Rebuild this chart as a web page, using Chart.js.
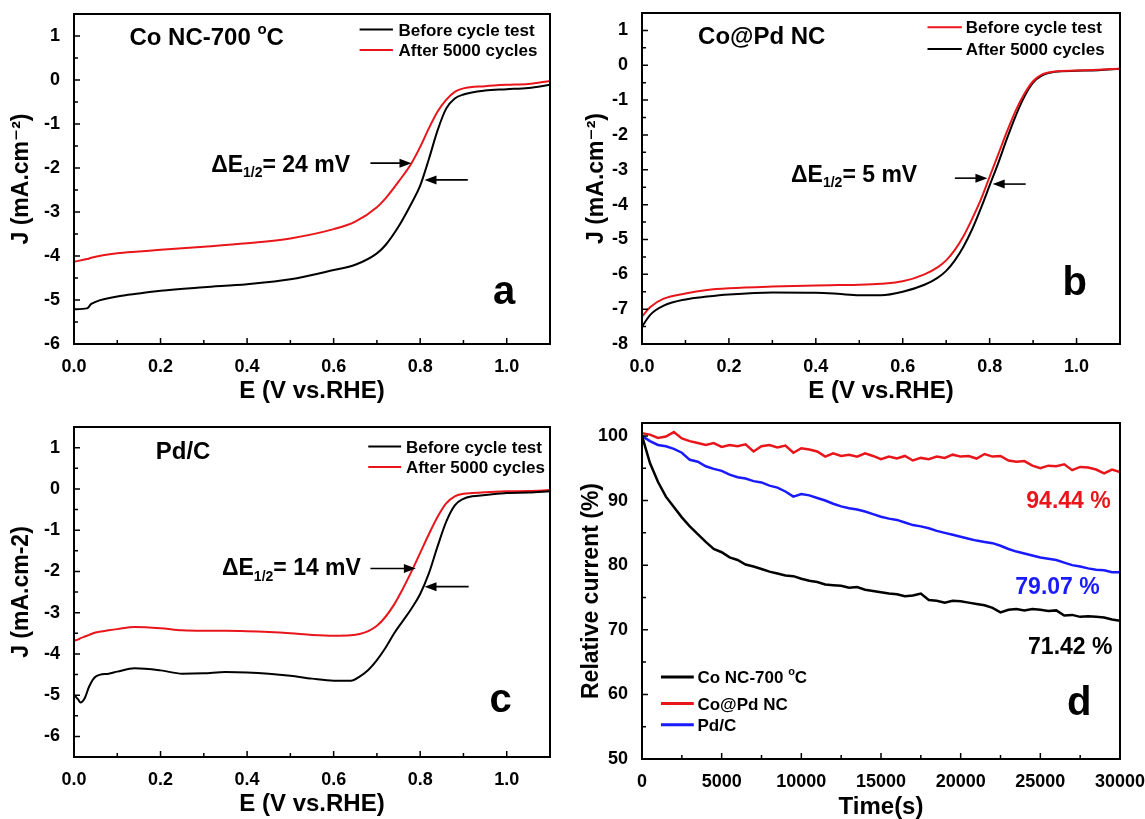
<!DOCTYPE html>
<html>
<head>
<meta charset="utf-8">
<script src="https://cdn.jsdelivr.net/npm/chart.js@4.4.1/dist/chart.umd.min.js"></script>
<style>
  body { margin: 0; background: #fff; }
  #fig { position: relative; width: 1145px; height: 819px; overflow: hidden; }
  #fig canvas { position: absolute; }
</style>
</head>
<body>
<div id="fig">
  <canvas id="panelA" width="572" height="410" style="left:0;top:0"></canvas>
  <canvas id="panelB" width="573" height="410" style="left:572px;top:0"></canvas>
  <canvas id="panelC" width="572" height="409" style="left:0;top:410px"></canvas>
  <canvas id="panelD" width="573" height="409" style="left:572px;top:410px"></canvas>
</div>
<script>
// ---- data ----
// (a) Co NC-700 °C
var eA = [0, 0.03, 0.04, 0.1, 0.15, 0.2, 0.3, 0.4, 0.5, 0.6, 0.65, 0.7, 0.72, 0.75, 0.78, 0.8, 0.82, 0.84, 0.86, 0.88, 0.9, 0.95, 1.0, 1.05, 1.1];
var beforeA = [-5.21, -5.19, -5.09, -4.92, -4.85, -4.79, -4.71, -4.64, -4.53, -4.32, -4.2, -3.94, -3.75, -3.33, -2.8, -2.4, -1.8, -1.15, -0.65, -0.42, -0.33, -0.24, -0.21, -0.18, -0.11];
var afterA = [-4.13, -4.07, -4.04, -3.94, -3.9, -3.86, -3.79, -3.71, -3.6, -3.39, -3.22, -2.89, -2.69, -2.31, -1.89, -1.52, -1.1, -0.72, -0.45, -0.27, -0.19, -0.14, -0.11, -0.09, -0.02];

// (b) Co@Pd NC
var eB = [0, 0.02, 0.05, 0.1, 0.15, 0.2, 0.3, 0.4, 0.45, 0.5, 0.55, 0.6, 0.65, 0.68, 0.7, 0.72, 0.74, 0.76, 0.78, 0.8, 0.82, 0.84, 0.86, 0.88, 0.9, 0.92, 0.95, 1.0, 1.05, 1.1];
var beforeB = [-7.21, -6.93, -6.7, -6.55, -6.45, -6.4, -6.35, -6.32, -6.31, -6.3, -6.27, -6.2, -6.0, -5.8, -5.6, -5.3, -4.9, -4.4, -3.85, -3.2, -2.55, -1.9, -1.3, -0.82, -0.46, -0.27, -0.18, -0.15, -0.13, -0.1];
var afterB = [-7.5, -7.15, -6.9, -6.72, -6.64, -6.58, -6.52, -6.53, -6.56, -6.6, -6.6, -6.5, -6.3, -6.1, -5.9, -5.6, -5.2, -4.7, -4.1, -3.45, -2.8, -2.1, -1.45, -0.9, -0.5, -0.3, -0.19, -0.16, -0.14, -0.1];

// (c) Pd/C
var eC = [0, 0.01, 0.015, 0.025, 0.035, 0.05, 0.08, 0.1, 0.14, 0.2, 0.25, 0.3, 0.35, 0.4, 0.45, 0.5, 0.55, 0.6, 0.64, 0.66, 0.68, 0.7, 0.72, 0.74, 0.76, 0.78, 0.8, 0.82, 0.84, 0.86, 0.88, 0.9, 0.92, 0.95, 1.0, 1.05, 1.1];
var beforeC = [-4.99, -5.11, -5.18, -5.07, -4.79, -4.55, -4.48, -4.43, -4.35, -4.4, -4.48, -4.47, -4.44, -4.45, -4.48, -4.53, -4.6, -4.65, -4.65, -4.55, -4.39, -4.15, -3.85, -3.5, -3.2, -2.9, -2.55, -2.05, -1.4, -0.8, -0.4, -0.24, -0.18, -0.15, -0.1, -0.09, -0.06];
var afterC = [-3.68, -3.65, -3.62, -3.58, -3.54, -3.48, -3.43, -3.4, -3.35, -3.38, -3.43, -3.44, -3.44, -3.45, -3.47, -3.5, -3.54, -3.56, -3.55, -3.52, -3.45, -3.32, -3.1, -2.8, -2.42, -2.0, -1.55, -1.1, -0.68, -0.35, -0.18, -0.12, -0.1, -0.08, -0.06, -0.05, -0.03];

// (d) chronoamperometry, relative current (%)
var timeD = [0, 500, 1000, 1500, 2000, 2500, 3000, 3500, 4000, 4500, 5000, 5500, 6000, 6500, 7000, 7500, 8000, 8500, 9000, 9500,
  10000, 10500, 11000, 11500, 12000, 12500, 13000, 13500, 14000, 14500, 15000, 15500, 16000, 16500, 17000, 17500, 18000, 18500, 19000, 19500,
  20000, 20500, 21000, 21500, 22000, 22500, 23000, 23500, 24000, 24500, 25000, 25500, 26000, 26500, 27000, 27500, 28000, 28500, 29000, 29500, 30000];
var coNC = [100, 95.8, 92.9, 90.6, 89.0, 87.4, 86.0, 84.8, 83.6, 82.5, 82.0, 81.2, 80.8, 80.1, 79.8, 79.4, 79.0, 78.7, 78.4, 78.3,
  77.9, 77.6, 77.4, 77.0, 76.9, 76.8, 76.5, 76.6, 76.2, 76.0, 75.8, 75.6, 75.5, 75.2, 75.3, 75.6, 74.6, 74.5, 74.2, 74.5,
  74.4, 74.2, 74.0, 73.8, 73.4, 72.7, 73.1, 73.2, 73.0, 73.2, 73.1, 72.9, 73.0, 72.2, 72.3, 72.0, 72.1, 72.0, 71.9, 71.6, 71.4];
var coPdNC = [100.4, 100.2, 99.7, 99.9, 100.6, 99.6, 99.2, 98.9, 98.6, 98.9, 98.3, 98.6, 98.4, 98.7, 97.6, 98.4, 98.6, 98.2, 98.5, 97.4,
  98.1, 97.9, 97.6, 96.8, 97.3, 96.9, 97.1, 96.8, 97.3, 96.9, 96.4, 96.8, 96.5, 96.9, 96.2, 96.6, 96.4, 96.8, 96.6, 97.1,
  96.8, 96.9, 96.5, 97.2, 96.8, 96.9, 96.2, 96.0, 96.1, 95.4, 95.0, 95.4, 95.3, 95.6, 94.7, 95.2, 95.1, 94.8, 94.2, 94.8, 94.4];
var pdC = [100, 99.2, 98.6, 98.4, 98.0, 97.4, 96.3, 96.0, 95.3, 94.9, 94.6, 94.0, 93.6, 93.4, 93.0, 92.8, 92.3, 92.0, 91.4, 90.6,
  91.0, 90.8, 90.4, 90.0, 89.5, 89.1, 88.8, 88.6, 88.3, 87.9, 87.5, 87.2, 87.0, 86.6, 86.2, 86.0, 85.7, 85.3, 85.0, 84.7,
  84.4, 84.1, 83.8, 83.6, 83.4, 83.0, 82.5, 82.1, 81.8, 81.5, 81.2, 81.0, 80.8, 80.4, 80.0, 79.8, 79.5, 79.3, 79.2, 78.9, 78.9];

// tick values
var ticksE = [0, 0.2, 0.4, 0.6, 0.8, 1.0];
var ticksJA = [-6, -5, -4, -3, -2, -1, 0, 1];
var ticksJB = [-8, -7, -6, -5, -4, -3, -2, -1, 0, 1];
var ticksJC = [-6, -5, -4, -3, -2, -1, 0, 1];
var ticksTime = [0, 5000, 10000, 15000, 20000, 25000, 30000];
var ticksRel = [50, 60, 70, 80, 90, 100];

var RED = '#e8161b';
var BLUE = '#1a1aff';
var FONT = '"Liberation Sans", Arial, "DejaVu Sans", sans-serif';

Chart.defaults.font.family = FONT;
Chart.defaults.color = '#000';

function pairs(xs, ys) {
  return xs.map(function (x, i) { return { x: x, y: ys[i] }; });
}

// "°" becomes a raised o, "_{..}" a subscript
function richRuns(str) {
  var runs = [], re = /_\{([^}]*)\}|°/g, last = 0, m;
  while ((m = re.exec(str)) !== null) {
    if (m.index > last) runs.push([str.slice(last, m.index), 'n']);
    runs.push(m[0] === '°' ? ['o', 'sup'] : [m[1], 'sub']);
    last = re.lastIndex;
  }
  if (last < str.length) runs.push([str.slice(last), 'n']);
  return runs;
}

function drawRich(ctx, str, x, y, size, color, align) {
  var runs = richRuns(str);
  var small = Math.round(size * 0.62);
  var widths = runs.map(function (r) {
    ctx.font = 'bold ' + (r[1] === 'n' ? size : small) + 'px ' + FONT;
    return ctx.measureText(r[0]).width;
  });
  var total = widths.reduce(function (s, w) { return s + w; }, 0);
  var cx = align === 'center' ? x - total / 2 : x;
  ctx.fillStyle = color;
  ctx.textAlign = 'left';
  ctx.textBaseline = 'alphabetic';
  runs.forEach(function (r, i) {
    ctx.font = 'bold ' + (r[1] === 'n' ? size : small) + 'px ' + FONT;
    var dy = r[1] === 'sub' ? size * 0.25 : (r[1] === 'sup' ? -size * 0.45 : 0);
    ctx.fillText(r[0], cx, y + dy);
    cx += widths[i];
  });
}

function drawArrow(ctx, x0, x1, y) {
  var dir = x1 > x0 ? 1 : -1;
  ctx.lineWidth = 1.6;
  ctx.beginPath();
  ctx.moveTo(x0, y);
  ctx.lineTo(x1 - dir * 8, y);
  ctx.stroke();
  ctx.beginPath();
  ctx.moveTo(x1, y);
  ctx.lineTo(x1 - dir * 12, y - 4.5);
  ctx.lineTo(x1 - dir * 12, y + 4.5);
  ctx.closePath();
  ctx.fill();
}

// box frame, inward ticks, labels, arrows and the small legends
var decor = {
  id: 'decor',
  afterDatasetsDraw: function (chart, args, o) {
    var ctx = chart.ctx, a = chart.chartArea;
    var xs = chart.scales.x, ys = chart.scales.y;
    var X = function (v) { return xs.getPixelForValue(v); };
    var Y = function (v) { return ys.getPixelForValue(v); };
    ctx.save();
    ctx.strokeStyle = '#000';
    ctx.fillStyle = '#000';

    ctx.lineWidth = 1.5;
    ctx.beginPath();
    xs.ticks.forEach(function (t) {
      var p = X(t.value);
      ctx.moveTo(p, a.bottom); ctx.lineTo(p, a.bottom - 6);
      var m = t.value + o.xMinor;
      if (m < xs.max - 1e-9) { ctx.moveTo(X(m), a.bottom); ctx.lineTo(X(m), a.bottom - 4); }
    });
    ys.ticks.forEach(function (t) {
      var p = Y(t.value);
      ctx.moveTo(a.left, p); ctx.lineTo(a.left + 6, p);
      var m = t.value + o.yMinor;
      if (m < ys.max - 1e-9) { ctx.moveTo(a.left, Y(m)); ctx.lineTo(a.left + 4, Y(m)); }
      var n = t.value - o.yMinor;
      if (n > ys.min + 1e-9 && t.value === ys.ticks[0].value) { ctx.moveTo(a.left, Y(n)); ctx.lineTo(a.left + 4, Y(n)); }
    });
    ctx.stroke();

    ctx.lineWidth = 2;
    ctx.strokeRect(a.left, a.top, a.right - a.left, a.bottom - a.top);

    (o.arrows || []).forEach(function (ar) {
      ctx.strokeStyle = '#000';
      ctx.fillStyle = '#000';
      drawArrow(ctx, X(ar.x0), X(ar.x1), Y(ar.y));
    });

    (o.texts || []).forEach(function (t) {
      drawRich(ctx, t.text, X(t.x), Y(t.y), t.size, t.color || '#000', t.align);
    });

    var lg = o.legend;
    if (lg) {
      chart.data.datasets.forEach(function (ds, i) {
        var y = Y(lg.ys[i]);
        ctx.strokeStyle = ds.borderColor;
        ctx.lineWidth = lg.width;
        ctx.beginPath();
        ctx.moveTo(X(lg.x0), y);
        ctx.lineTo(X(lg.x1), y);
        ctx.stroke();
        drawRich(ctx, ds.label, X(lg.tx), y + lg.size * 0.36, lg.size, '#000');
      });
    }
    ctx.restore();
  }
};

function fixBox(size) {
  return function (scale) {
    if (scale.isHorizontal()) scale.height = size; else scale.width = size;
    scale.paddingLeft = scale.paddingRight = scale.paddingTop = scale.paddingBottom = 0;
  };
}

function useTicks(values) {
  return function (scale) {
    scale.ticks = values.map(function (v) { return { value: v }; });
  };
}

function makePanel(id, sets, p) {
  return new Chart(document.getElementById(id), {
    type: 'line',
    data: { datasets: sets },
    options: {
      responsive: false,
      animation: false,
      events: [],
      layout: { padding: { left: 0, top: p.top, right: p.right, bottom: 0 } },
      elements: { point: { radius: 0 } },
      scales: {
        x: {
          type: 'linear',
          min: p.xMin,
          max: p.xMax,
          grid: { display: false },
          border: { display: false },
          afterBuildTicks: useTicks(p.xTicks),
          ticks: {
            autoSkip: false,
            maxRotation: 0,
            padding: 4,
            color: '#000',
            font: { size: 18, weight: 'bold' },
            callback: p.xFmt
          },
          title: {
            display: true,
            text: p.xTitle,
            color: '#000',
            font: { size: 24, weight: 'bold', lineHeight: p.xTitleLH || 1.2 },
            padding: { top: 0, bottom: p.xTitlePad }
          },
          afterFit: fixBox(p.xBox)
        },
        y: {
          type: 'linear',
          min: p.yMin,
          max: p.yMax,
          grid: { display: false },
          border: { display: false },
          afterBuildTicks: useTicks(p.yTicks),
          ticks: {
            autoSkip: false,
            padding: 6,
            color: '#000',
            font: { size: 18, weight: 'bold' },
            callback: function (v) { return String(v); }
          },
          title: {
            display: true,
            text: p.yTitle,
            color: '#000',
            font: { size: 23, weight: 'bold' },
            padding: { top: p.yTitlePad, bottom: 0 }
          },
          afterFit: fixBox(p.yBox)
        }
      },
      plugins: {
        legend: { display: false },
        tooltip: { enabled: false },
        decor: p.decor
      }
    },
    plugins: [decor]
  });
}

function curve(label, xs, ys, color, width, smooth) {
  return {
    label: label,
    data: pairs(xs, ys),
    borderColor: color,
    backgroundColor: color,
    borderWidth: width,
    pointRadius: 0,
    fill: false,
    cubicInterpolationMode: smooth ? 'monotone' : 'default',
    tension: 0
  };
}

var fmt1 = function (v) { return v.toFixed(1); };
var fmt0 = function (v) { return String(v); };

makePanel('panelA', [
  curve('Before cycle test', eA, beforeA, '#000', 2, true),
  curve('After 5000 cycles', eA, afterA, RED, 2, true)
], {
  top: 14, right: 22, xBox: 66, yBox: 74,
  xMin: 0, xMax: 1.1, xTicks: ticksE, xFmt: fmt1, xTitle: 'E (V vs.RHE)', xTitlePad: 4,
  yMin: -6, yMax: 1.5, yTicks: ticksJA, yTitle: 'J (mA.cm\u207B\u00B2)', yTitlePad: 8,
  decor: {
    xMinor: 0.1, yMinor: 0.5,
    arrows: [{ x0: 0.685, x1: 0.78, y: -1.89 }, { x0: 0.91, x1: 0.81, y: -2.27 }],
    texts: [
      { text: 'Co NC-700 °C', x: 0.128, y: 0.8, size: 24 },
      { text: '\u0394E_{1/2}= 24 mV', x: 0.317, y: -2.08, size: 23 },
      { text: 'a', x: 0.994, y: -5.08, size: 40, align: 'center' }
    ],
    legend: { x0: 0.66, x1: 0.737, tx: 0.75, ys: [1.15, 0.68], size: 17, width: 2 }
  }
});

makePanel('panelB', [
  curve('Before cycle test', eB, beforeB, RED, 2, true),
  curve('After 5000 cycles', eB, afterB, '#000', 2, true)
], {
  top: 13, right: 25, xBox: 66, yBox: 70,
  xMin: 0, xMax: 1.1, xTicks: ticksE, xFmt: fmt1, xTitle: 'E (V vs.RHE)', xTitlePad: 4,
  yMin: -8, yMax: 1.5, yTicks: ticksJB, yTitle: 'J (mA.cm\u207B\u00B2)', yTitlePad: 11,
  decor: {
    xMinor: 0.1, yMinor: 0.5,
    arrows: [{ x0: 0.72, x1: 0.795, y: -3.24 }, { x0: 0.883, x1: 0.807, y: -3.41 }],
    texts: [
      { text: 'Co@Pd NC', x: 0.129, y: 0.62, size: 24 },
      { text: '\u0394E_{1/2}= 5 mV', x: 0.343, y: -3.34, size: 23 },
      { text: 'b', x: 0.996, y: -6.6, size: 40, align: 'center' }
    ],
    legend: { x0: 0.657, x1: 0.736, tx: 0.745, ys: [1.09, 0.47], size: 17, width: 2 }
  }
});

makePanel('panelC', [
  curve('Before cycle test', eC, beforeC, '#000', 2, true),
  curve('After 5000 cycles', eC, afterC, RED, 2, true)
], {
  top: 17, right: 22, xBox: 62, yBox: 74,
  xMin: 0, xMax: 1.1, xTicks: ticksE, xFmt: fmt1, xTitle: 'E (V vs.RHE)', xTitlePad: 0,
  yMin: -6.5, yMax: 1.5, yTicks: ticksJC, yTitle: 'J (mA.cm-2)', yTitlePad: 8,
  decor: {
    xMinor: 0.1, yMinor: 0.5,
    arrows: [{ x0: 0.685, x1: 0.79, y: -1.93 }, { x0: 0.912, x1: 0.81, y: -2.37 }],
    texts: [
      { text: 'Pd/C', x: 0.189, y: 0.73, size: 24 },
      { text: '\u0394E_{1/2}= 14 mV', x: 0.342, y: -2.09, size: 23 },
      { text: 'c', x: 0.986, y: -5.4, size: 40, align: 'center' }
    ],
    legend: { x0: 0.68, x1: 0.756, tx: 0.767, ys: [1.03, 0.53], size: 17, width: 2 }
  }
});

makePanel('panelD', [
  curve('Co NC-700 °C', timeD, coNC, '#000', 2.5, false),
  curve('Co@Pd NC', timeD, coPdNC, RED, 2.5, false),
  curve('Pd/C', timeD, pdC, BLUE, 2.5, false)
], {
  top: 13, right: 25, xBox: 60, yBox: 70,
  xMin: 0, xMax: 30000, xTicks: ticksTime, xFmt: fmt0, xTitle: 'Time(s)', xTitlePad: 0, xTitleLH: 1.0,
  yMin: 50, yMax: 102, yTicks: ticksRel, yTitle: 'Relative current (%)', yTitlePad: 6,
  decor: {
    xMinor: 2500, yMinor: 5,
    texts: [
      { text: '94.44 %', x: 24120, y: 88.8, size: 23, color: RED },
      { text: '79.07 %', x: 23430, y: 75.5, size: 23, color: BLUE },
      { text: '71.42 %', x: 24230, y: 66.3, size: 23 },
      { text: 'd', x: 27440, y: 56.8, size: 40, align: 'center' }
    ],
    legend: { x0: 1190, x1: 3250, tx: 3480, ys: [62.7, 58.6, 55.3], size: 17, width: 3 }
  }
});
</script>
</body>
</html>
